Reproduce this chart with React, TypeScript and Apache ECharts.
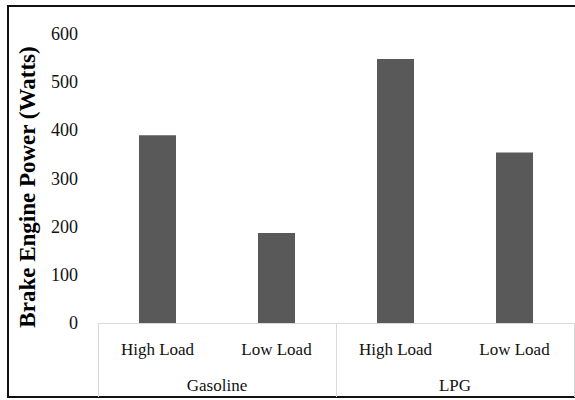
import React, { useEffect, useRef } from "react";
import * as echarts from "echarts";

const loadCategories = ["High Load", "Low Load", "High Load", "Low Load"];
const fuelGroups = ["Gasoline", "LPG"];
const powerValues = [390, 187, 548, 354];
const yTitle = "Brake Engine Power (Watts)";

export default function App() {
  const ref = useRef<HTMLDivElement>(null);
  useEffect(() => {
    document.body.style.margin = "0";
    const chart = echarts.init(ref.current!, null, { renderer: "svg" });
    const font = "'Liberation Serif', 'Times New Roman', serif";
    chart.setOption({
      animation: false,
      backgroundColor: "#ffffff",
      grid: { left: 98, right: 1, top: 34, bottom: 77, containLabel: false },
      xAxis: [
        {
          type: "category",
          data: loadCategories,
          axisLine: { show: true, lineStyle: { color: "#d9d9d9", width: 1 } },
          axisTick: { show: false },
          axisLabel: { color: "#111111", fontFamily: font, fontSize: 17, margin: 18 },
          splitLine: { show: false },
        },
        {
          type: "category",
          data: fuelGroups,
          position: "bottom",
          axisLine: { show: false },
          axisTick: { show: true, length: 74, alignWithLabel: false, lineStyle: { color: "#d9d9d9", width: 1 } },
          axisLabel: { color: "#111111", fontFamily: font, fontSize: 17, margin: 54 },
          splitLine: { show: false },
        },
      ],
      yAxis: {
        type: "value",
        min: 0,
        max: 600,
        interval: 100,
        axisLine: { show: false },
        axisTick: { show: false },
        splitLine: { show: false },
        axisLabel: { color: "#111111", fontFamily: font, fontSize: 18, margin: 20 },
      },
      series: [
        {
          type: "bar",
          xAxisIndex: 0,
          data: powerValues,
          barWidth: 37,
          itemStyle: { color: "#595959" },
        },
      ],
      graphic: [
        {
          type: "text",
          x: 27,
          y: 187,
          rotation: Math.PI / 2,
          style: {
            text: yTitle,
            fill: "#000000",
            font: `bold 23px ${font}`,
            align: "center",
            verticalAlign: "middle",
          },
          silent: true,
        },
        {
          type: "polyline",
          shape: { points: [[575, 6], [8, 6], [8, 397], [575, 397]] },
          style: { stroke: "#111111", lineWidth: 2, fill: null },
          silent: true,
        },
      ],
    });
    return () => chart.dispose();
  }, []);
  return <div ref={ref} style={{ width: 575, height: 400 }} />;
}
